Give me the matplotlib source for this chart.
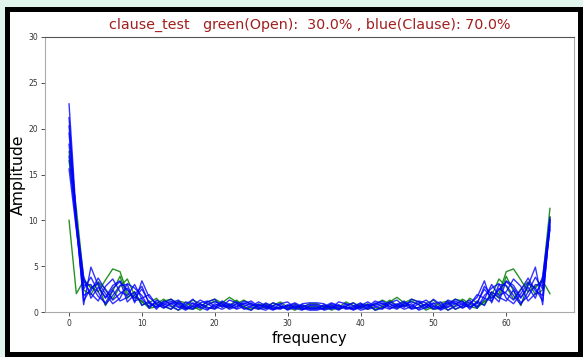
import matplotlib
matplotlib.use("Agg")
import matplotlib.pyplot as plt
from matplotlib.patches import Rectangle

title = "clause_test   green(Open):  30.0% , blue(Clause): 70.0%"

# amplitude spectra, bins 0..66
green_open = [
    [10.0, 2.0, 3.4, 2.8, 2.2, 3.5, 4.7, 4.4, 2.0, 1.6, 1.2, 0.4, 0.6, 1.2, 1.4, 0.9, 0.4,
     0.3, 0.6, 1.1, 1.4, 1.0, 1.6, 1.1, 0.5, 0.3, 0.7, 0.9, 0.5, 0.4, 0.7, 0.5, 0.3, 0.6,
     0.6, 0.3, 0.5, 0.7, 0.4, 0.5, 0.9, 0.7, 0.3, 0.5, 1.1, 1.6, 1.0, 1.4, 1.1, 0.6, 0.3,
     0.4, 0.9, 1.4, 1.2, 0.6, 0.4, 1.2, 1.6, 2.0, 4.4, 4.7, 3.5, 2.2, 2.8, 3.4, 2.0],
    [17.5, 11.3, 3.6, 2.6, 3.1, 0.7, 2.3, 3.9, 1.5, 2.2, 0.8, 1.0, 1.5, 0.6, 0.3, 1.2, 1.0,
     0.6, 0.2, 0.8, 1.2, 0.7, 0.4, 0.9, 1.3, 0.8, 0.3, 0.6, 1.0, 0.6, 0.3, 0.8, 0.5, 0.9,
     0.9, 0.5, 0.8, 0.3, 0.6, 1.0, 0.6, 0.3, 0.8, 1.3, 0.9, 0.4, 0.7, 1.2, 0.8, 0.2, 0.6,
     1.0, 1.2, 0.3, 0.6, 1.5, 1.0, 0.8, 2.2, 1.5, 3.9, 2.3, 0.7, 3.1, 2.6, 3.6, 11.3],
    [16.5, 10.4, 2.4, 1.9, 3.3, 2.5, 1.4, 2.8, 3.6, 1.8, 1.1, 0.6, 0.9, 1.4, 0.7, 0.2, 0.6,
     1.3, 0.9, 0.5, 0.4, 1.1, 0.7, 1.3, 0.6, 0.2, 0.9, 0.4, 0.7, 1.1, 0.5, 0.2, 0.7, 0.4,
     0.4, 0.7, 0.2, 0.5, 1.1, 0.7, 0.4, 0.9, 0.2, 0.6, 1.3, 0.7, 1.1, 0.4, 0.5, 0.9, 1.3,
     0.6, 0.2, 0.7, 1.4, 0.9, 0.6, 1.1, 1.8, 3.6, 2.8, 1.4, 2.5, 3.3, 1.9, 2.4, 10.4],
]

blue_clause = [
    [22.7, 10.3, 0.8, 4.9, 2.9, 1.5, 2.6, 3.3, 2.4, 1.5, 2.5, 1.0, 0.5, 0.8, 1.2, 0.6, 0.2,
     0.7, 1.3, 0.9, 0.4, 1.2, 0.8, 0.3, 0.6, 1.0, 0.4, 0.2, 0.7, 0.9, 0.3, 0.5, 0.8, 0.4,
     0.4, 0.8, 0.5, 0.3, 0.9, 0.7, 0.2, 0.4, 1.0, 0.6, 0.3, 0.8, 1.2, 0.4, 0.9, 1.3, 0.7,
     0.2, 0.6, 1.2, 0.8, 0.5, 1.0, 2.5, 1.5, 2.4, 3.3, 2.6, 1.5, 2.9, 4.9, 0.8, 10.3],
    [21.2, 9.8, 3.4, 2.0, 1.2, 2.8, 3.6, 2.2, 1.8, 3.0, 1.4, 0.6, 1.1, 0.7, 0.3, 1.0, 0.8,
     1.4, 0.5, 0.2, 0.9, 0.6, 1.3, 1.0, 0.4, 0.2, 0.8, 0.6, 0.3, 0.9, 1.1, 0.4, 0.2, 0.7,
     0.7, 0.2, 0.4, 1.1, 0.9, 0.3, 0.6, 0.8, 0.2, 0.4, 1.0, 1.3, 0.6, 0.9, 0.2, 0.5, 1.4,
     0.8, 1.0, 0.3, 0.7, 1.1, 0.6, 1.4, 3.0, 1.8, 2.2, 3.6, 2.8, 1.2, 2.0, 3.4, 9.8],
    [19.5, 10.0, 2.5, 3.8, 2.2, 0.8, 1.8, 2.9, 3.0, 1.0, 3.4, 1.6, 0.9, 0.4, 1.0, 1.3, 0.5,
     0.3, 1.0, 1.2, 0.6, 0.3, 0.7, 1.1, 0.8, 0.5, 0.3, 1.0, 0.6, 0.4, 0.8, 0.3, 0.9, 1.0,
     1.0, 0.9, 0.3, 0.8, 0.4, 0.6, 1.0, 0.3, 0.5, 0.8, 1.1, 0.7, 0.3, 0.6, 1.2, 1.0, 0.3,
     0.5, 1.3, 1.0, 0.4, 0.9, 1.6, 3.4, 1.0, 3.0, 2.9, 1.8, 0.8, 2.2, 3.8, 2.5, 10.0],
    [18.3, 9.5, 1.2, 2.6, 3.2, 2.0, 0.9, 1.5, 3.1, 2.6, 1.8, 0.4, 1.3, 0.9, 0.6, 0.2, 1.1,
     0.9, 0.4, 0.8, 1.1, 0.9, 0.3, 0.6, 1.2, 0.9, 0.5, 0.4, 1.0, 0.7, 0.2, 0.6, 0.5, 0.3,
     0.3, 0.5, 0.6, 0.2, 0.7, 1.0, 0.4, 0.5, 0.9, 1.2, 0.6, 0.3, 0.9, 1.1, 0.8, 0.4, 0.9,
     1.1, 0.2, 0.6, 0.9, 1.3, 0.4, 1.8, 2.6, 3.1, 1.5, 0.9, 2.0, 3.2, 2.6, 1.2, 9.5],
    [15.6, 9.0, 2.9, 3.0, 1.7, 1.0, 2.4, 1.2, 1.6, 2.2, 0.7, 1.2, 0.3, 1.2, 0.9, 0.5, 0.7,
     0.4, 0.9, 0.3, 0.7, 1.0, 0.5, 0.9, 0.3, 0.6, 1.1, 0.7, 0.3, 0.5, 0.6, 0.9, 0.4, 0.2,
     0.2, 0.4, 0.9, 0.6, 0.5, 0.3, 0.7, 1.1, 0.6, 0.3, 0.9, 0.5, 1.0, 0.7, 0.3, 0.9, 0.4,
     0.7, 0.5, 0.9, 1.2, 0.3, 1.2, 0.7, 2.2, 1.6, 1.2, 2.4, 1.0, 1.7, 3.0, 2.9, 9.0],
    [20.3, 10.1, 3.9, 1.5, 2.7, 1.6, 2.9, 3.4, 1.1, 1.9, 2.8, 0.9, 0.6, 1.0, 1.4, 0.8, 0.3,
     1.0, 0.6, 1.1, 1.4, 0.5, 0.9, 0.6, 0.9, 1.2, 0.6, 0.8, 0.4, 0.3, 0.7, 1.0, 0.6, 0.8,
     0.8, 0.6, 1.0, 0.7, 0.3, 0.4, 0.8, 0.6, 1.2, 0.9, 0.6, 0.9, 0.5, 1.4, 1.1, 0.6, 1.0,
     0.3, 0.8, 1.4, 1.0, 0.6, 0.9, 2.8, 1.9, 1.1, 3.4, 2.9, 1.6, 2.7, 1.5, 3.9, 10.1],
    [17.0, 9.3, 1.8, 2.3, 3.7, 2.4, 1.3, 2.0, 2.6, 1.2, 1.5, 1.9, 0.8, 0.5, 0.9, 1.1, 0.4,
     0.6, 0.8, 0.5, 0.3, 0.8, 0.6, 0.4, 1.0, 0.7, 0.8, 0.5, 0.2, 0.6, 0.4, 0.7, 0.3, 0.5,
     0.5, 0.3, 0.7, 0.4, 0.6, 0.2, 0.5, 0.8, 0.7, 1.0, 0.4, 0.6, 0.8, 0.3, 0.5, 0.8, 0.6,
     0.4, 1.1, 0.9, 0.5, 0.8, 1.9, 1.5, 1.2, 2.6, 2.0, 1.3, 2.4, 3.7, 2.3, 1.8, 9.3],
]

fig = plt.figure(figsize=(5.83, 3.57), dpi=100, facecolor="#e2f5ec")
W, H = 583, 357
fig.patches.append(Rectangle((5 / W, 0), 578 / W, 350 / H, transform=fig.transFigure,
                             facecolor="black", edgecolor="none", zorder=-10))
fig.patches.append(Rectangle((10 / W, 5 / H), 568 / W, 340 / H, transform=fig.transFigure,
                             facecolor="white", edgecolor="none", zorder=-9))

ax = fig.add_axes([45 / W, 45 / H, 529 / W, 275 / H])
ax.set_zorder(5)
for vals in green_open:
    ax.plot(range(len(vals)), vals, color="green", lw=1.0, alpha=0.85)
for vals in blue_clause:
    ax.plot(range(len(vals)), vals, color="blue", lw=1.0, alpha=0.8)

ax.set_ylim(0, 30)
ax.set_title(title, color="#a01e1e", fontsize=10.3, pad=6)
ax.set_xlabel("frequency", fontsize=10.8, labelpad=2)
ax.set_ylabel("Amplitude", fontsize=11.3)
ax.yaxis.set_label_coords(-0.036, 0.5)
ax.tick_params(labelsize=5.5, length=3, width=0.6, pad=2, colors="#333333")
for side in ["left", "bottom", "right"]:
    ax.spines[side].set_color("#aaaaaa")
ax.spines["top"].set_color("#555555")

fig.savefig("out.png", dpi=100, facecolor=fig.get_facecolor())
